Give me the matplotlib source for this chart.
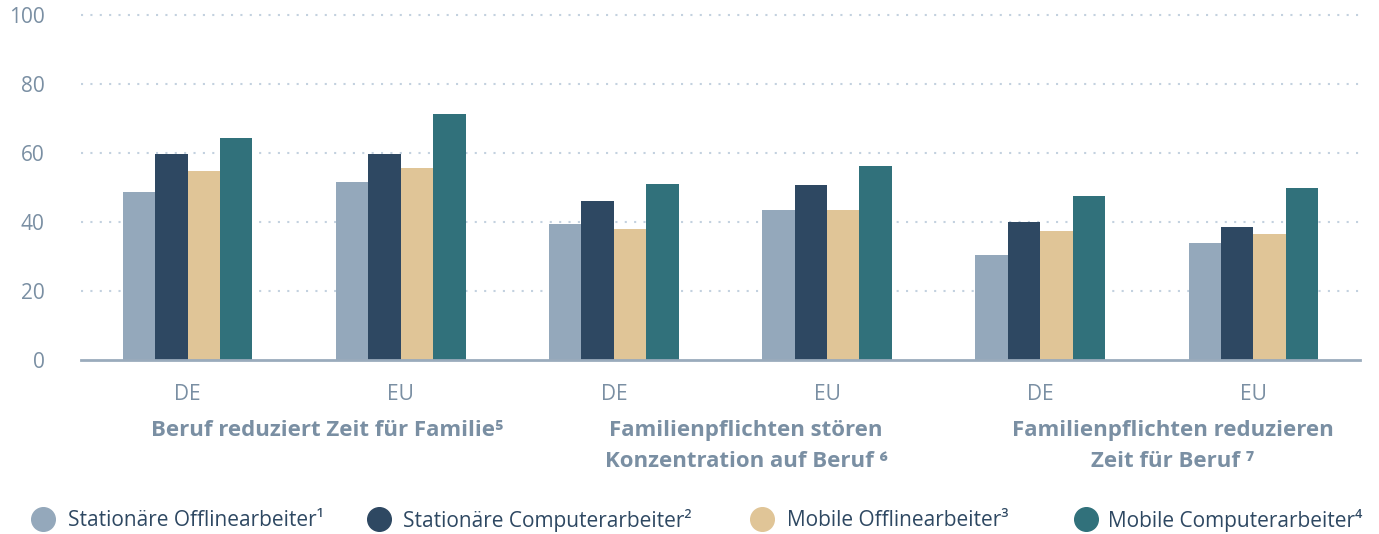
import matplotlib.pyplot as plt
import numpy as np
from matplotlib.lines import Line2D

plt.rcParams["font.family"] = ["Open Sans", "Noto Sans", "DejaVu Sans"]

# data
regions = ["DE", "EU", "DE", "EU", "DE", "EU"]
group_titles = [
    "Beruf reduziert Zeit für Familie⁵",
    "Familienpflichten stören\nKonzentration auf Beruf ⁶",
    "Familienpflichten reduzieren\nZeit für Beruf ⁷",
]
series_names = [
    "Stationäre Offlinearbeiter¹",
    "Stationäre Computerarbeiter²",
    "Mobile Offlinearbeiter³",
    "Mobile Computerarbeiter⁴",
]
stationaer_offline = [48.7, 51.6, 39.4, 43.5, 30.4, 33.9]
stationaer_computer = [59.7, 59.8, 46.1, 50.7, 40.0, 38.6]
mobil_offline = [54.8, 55.7, 38.0, 43.5, 37.4, 36.5]
mobil_computer = [64.4, 71.4, 51.0, 56.3, 47.6, 49.7]

colors = ["#94a8bb", "#2e4862", "#e0c597", "#31717b"]
label_color = "#7a8fa3"
legend_text_color = "#2e4862"
title_shift = [0.155, 0.12, 0.12]  # group titles sit a bit right of the pair centre
legend_x_px = [43, 379, 762, 1086]  # legend dot centres, pixels from the left
legend_text_px = [68, 403, 787, 1108]  # legend text starts

W, H = 1379, 534
fig = plt.figure(figsize=(W / 100, H / 100), dpi=100)
ax = fig.add_axes([0.0587, 0.326, 0.9275, 0.646])

x = np.arange(len(regions))
width = 0.152
values = [stationaer_offline, stationaer_computer, mobil_offline, mobil_computer]
for i, (vals, color) in enumerate(zip(values, colors)):
    ax.bar(x + (i - 1.5) * width, vals, width=width, color=color, zorder=3)

ax.set_xlim(-0.5, len(regions) - 0.5)
ax.set_ylim(0, 100)
ax.set_yticks([0, 20, 40, 60, 80, 100])
ax.tick_params(axis="y", length=0, pad=26, labelsize=15, labelcolor=label_color)
ax.set_xticks([])

for side in ["top", "right", "left"]:
    ax.spines[side].set_visible(False)
ax.spines["bottom"].set_color("#9aabbc")
ax.spines["bottom"].set_linewidth(2)
ax.spines["bottom"].set_zorder(4)

for y in [20, 40, 60, 80, 100]:
    ax.axhline(y, color="#c3d1df", linewidth=1.5, linestyle=(0, (1, 3.5)),
               dash_capstyle="butt", zorder=1, clip_on=False)

# region labels and group titles below the axis
trans = ax.get_xaxis_transform()
for xi, reg in zip(x, regions):
    ax.text(xi, -0.1, reg, transform=trans, ha="center", va="center",
            fontsize=15, color=label_color)
for k, title in enumerate(group_titles):
    ax.text(2 * k + 0.5 + title_shift[k], -0.173, title, transform=trans,
            ha="center", va="top", fontsize=16, color=label_color,
            fontweight="bold", linespacing=1.62)

# legend drawn by hand, the items are not evenly spaced in the original
ly = 1 - 519 / H
for px, tx, name, c in zip(legend_x_px, legend_text_px, series_names, colors):
    fig.add_artist(Line2D([px / W], [ly], marker="o", linestyle="", markersize=17,
                          markerfacecolor=c, markeredgecolor=c,
                          transform=fig.transFigure))
    fig.text(tx / W, 1 - 521 / H, name, ha="left", va="center", fontsize=15,
             color=legend_text_color)

fig.savefig("out.png", dpi=100)
